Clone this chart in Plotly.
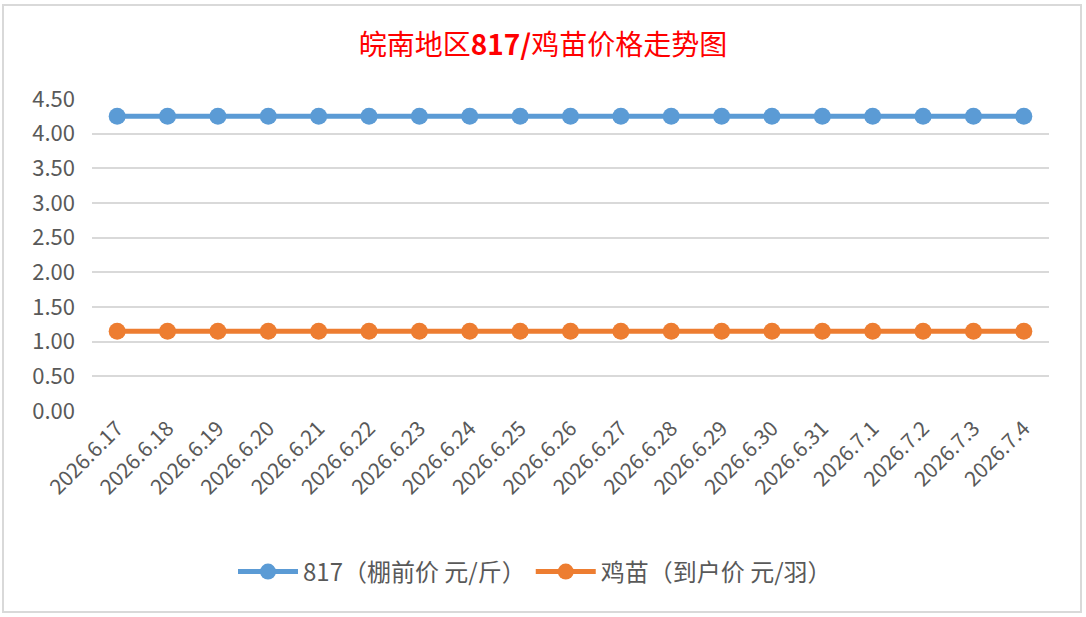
"""皖南地区817/鸡苗价格走势图 — line chart recreation."""
import plotly.graph_objects as go

# ---------------------------------------------------------------------------
# Data
# ---------------------------------------------------------------------------

dates = [
    "2026.6.17", "2026.6.18", "2026.6.19", "2026.6.20", "2026.6.21",
    "2026.6.22", "2026.6.23", "2026.6.24", "2026.6.25", "2026.6.26",
    "2026.6.27", "2026.6.28", "2026.6.29", "2026.6.30", "2026.6.31",
    "2026.7.1", "2026.7.2", "2026.7.3", "2026.7.4",
]
price_817 = [4.25] * len(dates)
price_chick = [1.15] * len(dates)

name_817 = "817（棚前价 元/斤）"
name_chick = "鸡苗（到户价 元/羽）"
title = "皖南地区<b>817/</b>鸡苗价格走势图"

y_ticks = [0, 0.5, 1.0, 1.5, 2.0, 2.5, 3.0, 3.5, 4.0, 4.5]

FONT = "Noto Sans CJK SC"
GRID = "#d9d9d9"
TEXT = "#595959"

# plot area in px (from the reference)
L, R, T, B = 92, 37, 99, 206
W, H = 1086, 617
PW, PH = W - L - R, H - T - B

# ---------------------------------------------------------------------------
# Figure
# ---------------------------------------------------------------------------

fig = go.Figure()
fig.add_trace(go.Scatter(
    x=dates, y=price_817, mode="lines+markers", name=name_817,
    line=dict(color="#5b9bd5", width=5),
    marker=dict(color="#5b9bd5", size=17),
))
fig.add_trace(go.Scatter(
    x=dates, y=price_chick, mode="lines+markers", name=name_chick,
    line=dict(color="#ed7d31", width=5),
    marker=dict(color="#ed7d31", size=17),
))

fig.update_layout(
    width=W, height=H,
    margin=dict(l=L, r=R, t=T, b=B),
    paper_bgcolor="white", plot_bgcolor="white",
    font=dict(family=FONT, color=TEXT, size=16),
    title=dict(
        text=title, x=0.5, xref="container", xanchor="center",
        y=1 - 45 / H, yanchor="middle",
        font=dict(family=FONT, color="#ff0000", size=28),
    ),
    legend=dict(
        orientation="h", x=(535 - L) / PW, xanchor="center",
        y=(H - 572 - B) / PH, yanchor="middle",
        font=dict(size=24, color=TEXT), itemwidth=60,
    ),
    showlegend=True,
)
fig.update_xaxes(
    type="category", tickangle=-45, showgrid=False, showline=False,
    ticks="", tickfont=dict(size=21, color=TEXT),
    range=[-0.5, len(dates) - 0.5],
)
fig.update_yaxes(
    range=[0, 4.5], tickvals=y_ticks, tickformat=".2f",
    showgrid=True, gridcolor=GRID, gridwidth=1.5, zeroline=False,
    showline=False, ticks="", tickfont=dict(size=22, color=TEXT),
    ticklabelstandoff=16,
)

# chart-area border (as in the spreadsheet chart object)
fig.add_shape(
    type="rect", xref="paper", yref="paper",
    x0=(3 - L) / PW, x1=(1081 - L) / PW,
    y0=(H - 612 - B) / PH, y1=(H - 5 - B) / PH,
    line=dict(color=GRID, width=2), layer="below",
)

fig.write_html(
    "out.html",
    config={"displayModeBar": False},
    post_script="document.body.style.margin='0';",
)
